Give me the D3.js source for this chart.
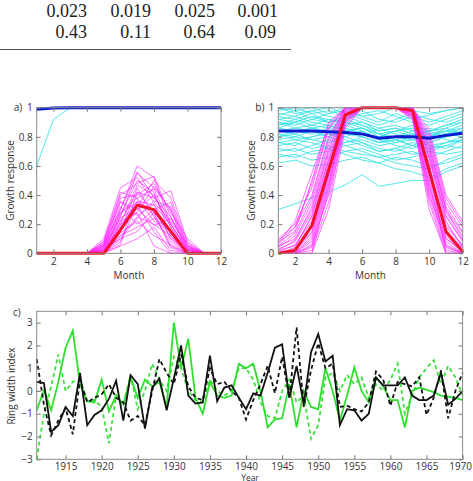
<!DOCTYPE html>
<html>
<head>
<meta charset="utf-8">
<script src="https://cdn.jsdelivr.net/npm/d3@7"></script>
<style>
  body { margin: 0; background: #fff; }
  svg { display: block; }
  .tick text { font-family: "Open Sans", sans-serif; font-size: 10px; fill: #333; }
  .tick line { stroke: #777; }
  .lbl { font-family: "Open Sans", sans-serif; font-size: 10px; fill: #333; }
</style>
</head>
<body>
<div id="chart"></div>
<script>
// table fragment at the top
const tableRow1 = ["0.023", "0.019", "0.025", "0.001"];
const tableRow2 = ["0.43", "0.11", "0.64", "0.09"];

const months = [1, 2, 3, 4, 5, 6, 7, 8, 9, 10, 11, 12];
const monthTicks = [2, 4, 6, 8, 10, 12];
const responseTicks = [0, 0.2, 0.4, 0.6, 0.8, 1];

// panel a: moisture (cyan / blue mean) and temperature (magenta / red mean)
const aCyan = [
  [0.60, 0.92, 1, 1, 1, 1, 1, 1, 1, 1, 1, 1],
  [1, 1, 1, 1, 1, 1, 1, 1, 1, 1, 1, 1],
  [1, 1, 1, 1, 1, 1, 1, 1, 1, 1, 1, 1]
];
const aBlue = [0.99, 0.998, 1, 1, 1, 1, 1, 1, 1, 1, 1, 1];
const aMagenta = [
  [0, 0, 0, 0, 0.05, 0.30, 0.60, 0.52, 0.20, 0.02, 0, 0],
  [0, 0, 0, 0, 0.02, 0.25, 0.55, 0.45, 0.30, 0, 0, 0],
  [0, 0, 0, 0, 0.08, 0.40, 0.48, 0.53, 0.25, 0.05, 0, 0],
  [0, 0, 0, 0, 0, 0.18, 0.35, 0.30, 0.10, 0, 0, 0],
  [0, 0, 0, 0, 0.03, 0.22, 0.42, 0.38, 0.43, 0.08, 0, 0],
  [0, 0, 0, 0, 0, 0.10, 0.15, 0.28, 0.05, 0, 0, 0],
  [0, 0, 0, 0, 0.06, 0.35, 0.30, 0.40, 0.18, 0.02, 0, 0],
  [0, 0, 0, 0, 0, 0.12, 0.25, 0.20, 0.12, 0, 0, 0],
  [0, 0, 0, 0, 0.04, 0.28, 0.38, 0.22, 0.15, 0.03, 0, 0],
  [0, 0, 0, 0, 0, 0.05, 0.10, 0.18, 0.02, 0, 0, 0],
  [0, 0, 0, 0, 0.10, 0.45, 0.52, 0.35, 0.22, 0.06, 0, 0],
  [0, 0, 0, 0, 0.02, 0.20, 0.28, 0.46, 0.30, 0.04, 0, 0],
  [0, 0, 0, 0, 0, 0.15, 0.45, 0.25, 0.08, 0, 0, 0],
  [0, 0, 0, 0, 0.05, 0.32, 0.20, 0.30, 0.35, 0.05, 0, 0],
  [0, 0, 0, 0, 0, 0.08, 0.33, 0.15, 0, 0, 0, 0],
  [0, 0, 0, 0, 0.03, 0.26, 0.50, 0.42, 0.12, 0, 0, 0],
  [0, 0, 0, 0, 0.07, 0.38, 0.40, 0.48, 0.28, 0.10, 0, 0],
  [0, 0, 0, 0, 0, 0.14, 0.22, 0.12, 0.06, 0, 0, 0],
  [0, 0, 0, 0, 0.02, 0.18, 0.36, 0.33, 0.20, 0.03, 0, 0],
  [0, 0, 0, 0, 0, 0.22, 0.28, 0.05, 0, 0, 0, 0],
  [0, 0, 0, 0, 0.05, 0.30, 0.56, 0.38, 0.25, 0.02, 0, 0],
  [0, 0, 0, 0, 0.01, 0.12, 0.18, 0.24, 0.16, 0, 0, 0],
  [0, 0, 0, 0, 0.04, 0.24, 0.32, 0.50, 0.38, 0.07, 0, 0],
  [0, 0, 0, 0, 0, 0.06, 0.42, 0.28, 0.14, 0, 0, 0],
  [0, 0, 0, 0, 0.06, 0.36, 0.26, 0.34, 0.10, 0.02, 0, 0],
  [0, 0, 0, 0, 0.02, 0.16, 0.31, 0.19, 0.24, 0.04, 0, 0],
  [0, 0, 0, 0, 0, 0.20, 0.47, 0.40, 0.18, 0, 0, 0],
  [0, 0, 0, 0, 0.03, 0.10, 0.24, 0.36, 0.32, 0.05, 0, 0],
  [0, 0, 0, 0, 0, 0.28, 0.35, 0.27, 0.04, 0, 0, 0],
  [0, 0, 0, 0, 0.08, 0.42, 0.38, 0.44, 0.20, 0.03, 0, 0]
];
const aRed = [0, 0, 0, 0, 0, 0.16, 0.33, 0.30, 0.15, 0, 0, 0];

// panel b
const bCyan = [
  [0.30, 0.34, 0.38, 0.42, 0.47, 0.54, 0.46, 0.48, 0.50, 0.50, 0.56, 0.60],
  [0.62, 0.64, 0.60, 0.61, 0.64, 0.66, 0.62, 0.58, 0.56, 0.52, 0.58, 0.62],
  [0.95, 0.98, 0.92, 0.96, 1.00, 0.94, 0.90, 0.96, 0.92, 0.95, 0.98, 1.00],
  [0.88, 0.90, 0.86, 0.84, 0.88, 0.90, 0.84, 0.86, 0.82, 0.84, 0.88, 0.90],
  [0.72, 0.70, 0.74, 0.78, 0.74, 0.70, 0.66, 0.68, 0.70, 0.66, 0.70, 0.74],
  [0.80, 0.82, 0.78, 0.76, 0.80, 0.84, 0.78, 0.74, 0.72, 0.76, 0.80, 0.82],
  [1.00, 0.96, 0.98, 0.94, 0.92, 0.96, 0.98, 0.94, 0.90, 0.88, 0.92, 0.96],
  [0.76, 0.74, 0.80, 0.82, 0.78, 0.74, 0.70, 0.72, 0.76, 0.74, 0.72, 0.78],
  [0.90, 0.88, 0.92, 0.90, 0.86, 0.82, 0.80, 0.84, 0.86, 0.82, 0.84, 0.86],
  [0.68, 0.66, 0.70, 0.72, 0.68, 0.64, 0.62, 0.66, 0.64, 0.60, 0.62, 0.66],
  [0.86, 0.84, 0.82, 0.86, 0.90, 0.88, 0.82, 0.80, 0.84, 0.86, 0.82, 0.84],
  [0.94, 0.92, 0.96, 0.98, 0.94, 0.90, 0.86, 0.88, 0.84, 0.80, 0.86, 0.90],
  [0.78, 0.80, 0.84, 0.80, 0.76, 0.78, 0.74, 0.76, 0.80, 0.82, 0.78, 0.76],
  [0.84, 0.86, 0.88, 0.92, 0.88, 0.84, 0.76, 0.78, 0.74, 0.78, 0.82, 0.80],
  [0.98, 1.00, 0.96, 0.90, 0.94, 0.98, 0.92, 0.90, 0.94, 0.90, 0.94, 0.98],
  [0.70, 0.72, 0.68, 0.70, 0.74, 0.76, 0.70, 0.72, 0.68, 0.70, 0.74, 0.72],
  [0.82, 0.78, 0.80, 0.84, 0.82, 0.80, 0.86, 0.82, 0.78, 0.74, 0.76, 0.80],
  [0.92, 0.94, 0.90, 0.88, 0.84, 0.86, 0.80, 0.84, 0.88, 0.84, 0.80, 0.84],
  [0.74, 0.76, 0.72, 0.74, 0.70, 0.72, 0.68, 0.64, 0.66, 0.70, 0.68, 0.70],
  [0.86, 0.90, 0.94, 0.90, 0.92, 0.88, 0.84, 0.86, 0.82, 0.80, 0.84, 0.88],
  [0.80, 0.84, 0.86, 0.82, 0.80, 0.76, 0.72, 0.70, 0.74, 0.72, 0.76, 0.78],
  [0.96, 0.94, 0.98, 1.00, 0.96, 0.92, 0.88, 0.92, 0.96, 0.92, 0.90, 0.94],
  [0.66, 0.68, 0.64, 0.66, 0.70, 0.68, 0.66, 0.62, 0.60, 0.58, 0.64, 0.68],
  [0.90, 0.86, 0.84, 0.80, 0.84, 0.86, 0.82, 0.78, 0.80, 0.84, 0.86, 0.82],
  [0.84, 0.82, 0.86, 0.88, 0.84, 0.80, 0.76, 0.80, 0.78, 0.76, 0.80, 0.84],
  [1.00, 0.98, 1.00, 0.96, 0.98, 0.94, 0.96, 1.00, 0.98, 0.96, 0.98, 1.00],
  [0.76, 0.78, 0.76, 0.72, 0.76, 0.80, 0.76, 0.78, 0.74, 0.72, 0.74, 0.78],
  [0.88, 0.92, 0.88, 0.86, 0.82, 0.84, 0.78, 0.80, 0.82, 0.78, 0.82, 0.86],
  [0.82, 0.80, 0.78, 0.80, 0.86, 0.82, 0.80, 0.76, 0.78, 0.80, 0.84, 0.82],
  [0.92, 0.90, 0.94, 0.92, 0.90, 0.86, 0.82, 0.84, 0.80, 0.84, 0.88, 0.92]
];
const bBlue = [0.84, 0.84, 0.84, 0.835, 0.83, 0.82, 0.79, 0.80, 0.80, 0.79, 0.81, 0.825];
const bMagenta = [
  [0, 0, 0, 0.45, 0.95, 1, 1, 1, 1, 0.60, 0, 0],
  [0.05, 0.10, 0.30, 0.70, 1, 1, 1, 1, 0.98, 0.50, 0.10, 0.02],
  [0, 0.02, 0.15, 0.55, 0.92, 1, 1, 1, 1, 0.65, 0.20, 0.05],
  [0.10, 0.20, 0.45, 0.85, 1, 1, 1, 1, 0.95, 0.45, 0.05, 0],
  [0, 0, 0.05, 0.40, 0.88, 1, 1, 1, 1, 0.75, 0.30, 0.10],
  [0.02, 0.05, 0.25, 0.65, 0.98, 1, 1, 1, 0.97, 0.55, 0.15, 0.03],
  [0, 0, 0, 0.30, 0.86, 1, 1, 1, 1, 0.80, 0.35, 0.18],
  [0.08, 0.15, 0.50, 0.90, 1, 1, 1, 1, 0.92, 0.35, 0, 0],
  [0, 0.03, 0.20, 0.60, 0.94, 1, 1, 1, 1, 0.70, 0.25, 0.08],
  [0.04, 0.12, 0.35, 0.75, 1, 1, 1, 1, 0.96, 0.40, 0.08, 0],
  [0, 0, 0.10, 0.50, 0.90, 1, 1, 1, 1, 0.85, 0.40, 0.22],
  [0, 0.01, 0.08, 0.48, 0.96, 1, 1, 1, 0.99, 0.62, 0.12, 0.01],
  [0.06, 0.18, 0.40, 0.80, 1, 1, 1, 1, 0.94, 0.30, 0, 0],
  [0, 0, 0.02, 0.35, 0.90, 1, 1, 1, 1, 0.72, 0.28, 0.12],
  [0.03, 0.08, 0.28, 0.68, 0.97, 1, 1, 1, 0.98, 0.58, 0.18, 0.06],
  [0, 0, 0.12, 0.52, 0.93, 1, 1, 1, 1, 0.68, 0.22, 0.04],
  [0.07, 0.22, 0.55, 0.88, 1, 1, 1, 1, 0.95, 0.48, 0.06, 0],
  [0, 0.02, 0.18, 0.58, 0.95, 1, 1, 1, 1, 0.78, 0.32, 0.15],
  [0.01, 0.06, 0.22, 0.62, 0.98, 1, 1, 1, 0.97, 0.52, 0.14, 0.02],
  [0, 0, 0.04, 0.42, 0.91, 1, 1, 1, 1, 0.66, 0.26, 0.09],
  [0.05, 0.14, 0.38, 0.78, 1, 1, 1, 1, 0.93, 0.42, 0.04, 0],
  [0, 0.01, 0.14, 0.54, 0.94, 1, 1, 1, 1, 0.74, 0.30, 0.14],
  [0.02, 0.09, 0.32, 0.72, 0.99, 1, 1, 1, 0.96, 0.46, 0.10, 0.01],
  [0, 0, 0.06, 0.46, 0.92, 1, 1, 1, 1, 0.82, 0.38, 0.20],
  [0.09, 0.18, 0.48, 0.86, 1, 1, 1, 1, 0.94, 0.38, 0.02, 0],
  [0, 0.04, 0.26, 0.64, 0.96, 1, 1, 1, 0.99, 0.56, 0.16, 0.04]
];
const bRed = [0, 0.02, 0.19, 0.57, 0.95, 1, 1, 1, 0.98, 0.57, 0.15, 0.01];

// panel c: ring width index, 1911-1970
const years = d3.range(1911, 1971);
const yearTicks = [1915, 1920, 1925, 1930, 1935, 1940, 1945, 1950, 1955, 1960, 1965, 1970];
const ringTicks = [-3, -2, -1, 0, 1, 2, 3];
const blackSolid = [0.4, 0.35, -1.8, -1.5, -0.7, -1.1, 0.8, -1.5, -1.05, -0.85,
  -0.35, 0.45, -1.3, 0.7, 0.3, -1.65, 0.15, 0.55, -0.85, 0.55,
  2.0, -0.2, -0.55, -0.5, 1.55, -0.45, 0.15, 0.25, -0.3, -0.8,
  -0.1, -0.2, 0.8, 1.9, 2.05, -0.3, 1.1, -0.6, 1.7, 2.5,
  1.3, 1.55, -1.5, -0.8, -0.85, -1.3, -1.0, 0.6, 0.25, 0.25,
  0.25, 0.6, -0.2, -0.4, -0.4, -0.2, 0.8, -0.6, -0.35, 0.0];
const blackDashed = [1.4, -0.6, -1.95, -1.3, -0.75, -1.9, 0.5, -0.5, -0.3, -0.15,
  0.3, -0.3, -0.5, -1.3, -1.1, -1.5, 0.0, 1.4, 0.8, 0.3,
  1.6, 0.2, -0.3, -0.4, 1.0, 0.3, 0.4, 0.0, -0.3, -1.25,
  -0.4, 0.3, 1.1, -0.1, 1.5, -0.3, 2.8, -0.7, 0.9, 2.1,
  1.0, 1.2, -0.7, -0.65, -0.8, -0.9, -0.5, 0.85, 0.5, -0.65,
  0.4, 0.3, 0.2, 0.6, -1.05, -0.3, 0.9, -1.2, 0.0, 0.8];
const greenSolid = [-0.85, 0.05, -0.85, 0.4, 1.9, 2.65, 0.3, -0.45, -0.5, 0.5,
  -0.9, -0.2, -0.6, 0.6, -0.3, 0.5, 0.2, 0.4, -0.7, 3.0,
  1.0, 2.3, -0.3, -1.0, 0.4, -0.2, -0.3, -0.2, 1.2, 1.0,
  1.2, 0.0, -1.6, -1.25, -1.2, 0.3, -1.6, 0.0, -0.7, -0.8,
  1.0, 0.0, -1.3, -0.2, 1.05, 0.0, -0.5, 0.6, 0.2, -0.4,
  -0.4, -1.6, 0.0, 0.15, 0.05, -0.05, -0.2, -0.25, -0.3, -0.4];
const greenDashed = [-3.0, -1.0, 0.2, 1.6, 0.0, 0.4, 0.5, -0.4, -0.4, -0.7,
  -2.3, -0.2, -0.6, 0.7, -0.8, 0.0, 1.2, 0.5, 0.0, 1.5,
  1.0, 0.0, -0.4, -0.5, 0.5, 0.0, -0.2, 0.0, 1.0, 1.0,
  0.5, -0.5, -1.1, -1.2, 0.0, 0.5, -0.5, -0.2, -2.1, -1.5,
  0.6, 0.8, 0.0, 0.7, 0.3, 0.6, -0.3, 0.3, 0.0, 0.5,
  1.2, -1.0, -0.2, 0.6, 1.0, 1.35, 0.3, 1.1, 0.6, -0.2];

const W = 473, H = 481;
const svg = d3.select("#chart").append("svg").attr("width", W).attr("height", H);

// ---- table fragment ----
const colRight = [87, 151, 215, 278];
[tableRow1, tableRow2].forEach((row, r) => {
  row.forEach((v, i) => {
    svg.append("text")
      .attr("x", colRight[i] - (r === 1 && i === 3 ? 2 : 0))
      .attr("y", 17 + r * 20.5)
      .attr("text-anchor", "end")
      .style("font-family", "'Liberation Serif', serif")
      .style("font-size", "18px")
      .style("fill", "#222")
      .text(v);
  });
});
svg.append("line")
  .attr("x1", 0).attr("x2", 291).attr("y1", 49.5).attr("y2", 49.5)
  .attr("stroke", "#555").attr("stroke-width", 1.2);

// matlab style box with inward ticks
function boxAxes(x, y, xTicks, yTicks, xFmt, yFmt, xPad) {
  const [x0, x1] = x.range();
  const [y0, y1] = y.range();
  const g = svg.append("g");
  g.append("rect")
    .attr("x", x0).attr("y", y1).attr("width", x1 - x0).attr("height", y0 - y1)
    .attr("fill", "none").attr("stroke", "#8a8a8a").attr("stroke-width", 1);

  g.append("g").attr("transform", `translate(0,${y0})`)
    .call(d3.axisBottom(x).tickValues(xTicks).tickSizeInner(-4).tickSizeOuter(0).tickPadding(xPad).tickFormat(xFmt))
    .call(a => a.select(".domain").remove());
  g.append("g").attr("transform", `translate(0,${y1})`)
    .call(d3.axisTop(x).tickValues(xTicks).tickSizeInner(-4).tickSizeOuter(0).tickFormat(""))
    .call(a => a.select(".domain").remove());
  g.append("g").attr("transform", `translate(${x0},0)`)
    .call(d3.axisLeft(y).tickValues(yTicks).tickSizeInner(-4).tickSizeOuter(0).tickPadding(4).tickFormat(yFmt))
    .call(a => a.select(".domain").remove());
  g.append("g").attr("transform", `translate(${x1},0)`)
    .call(d3.axisRight(y).tickValues(yTicks).tickSizeInner(-4).tickSizeOuter(0).tickFormat(""))
    .call(a => a.select(".domain").remove());
  return g;
}

function monthPanel(left, right, cyan, blue, magenta, red, tag) {
  const x = d3.scaleLinear().domain([1, 12]).range([left, right]);
  const y = d3.scaleLinear().domain([0, 1]).range([253.3, 107.7]);
  const line = d3.line().x((d, i) => x(months[i])).y(d => y(d));
  const g = svg.append("g");

  g.selectAll(".cy").data(cyan).join("path")
    .attr("d", line).attr("fill", "none")
    .attr("stroke", "#3fe3e8").attr("stroke-width", 0.9);
  g.selectAll(".mg").data(magenta).join("path")
    .attr("d", line).attr("fill", "none")
    .attr("stroke", "#ff22ff").attr("stroke-width", 0.8).attr("stroke-opacity", 0.8);
  g.append("path").datum(blue).attr("d", line).attr("fill", "none")
    .attr("stroke", "#0a1ad0").attr("stroke-width", 3);
  g.append("path").datum(red).attr("d", line).attr("fill", "none")
    .attr("stroke", "#f5102a").attr("stroke-width", 3).attr("stroke-linejoin", "round");

  boxAxes(x, y, monthTicks, responseTicks, d3.format("d"), d3.format("~g"), 5);

  svg.append("text").attr("class", "lbl")
    .attr("x", (left + right) / 2).attr("y", 279).attr("text-anchor", "middle").text("Month");
  svg.append("text").attr("class", "lbl")
    .attr("transform", `translate(${left - 23},180.5) rotate(-90)`)
    .attr("text-anchor", "middle").text("Growth response");
  svg.append("text").attr("class", "lbl")
    .attr("x", left - 23).attr("y", 111).text(tag);
}

monthPanel(36.7, 221, aCyan, aBlue, aMagenta, aRed, "a)");
monthPanel(278.3, 462.7, bCyan, bBlue, bMagenta, bRed, "b)");

// ---- panel c ----
const xc = d3.scaleLinear().domain([1911, 1970]).range([36.7, 462.6]);
const yc = d3.scaleLinear().domain([-3, 3.5]).range([459.3, 311.3]);
const ringLine = d3.line().x((d, i) => xc(years[i])).y(d => yc(d));

const ringSeries = [
  { values: greenDashed, color: "#3ee03e", dash: "4,3" },
  { values: greenSolid, color: "#2ee02e", dash: null },
  { values: blackDashed, color: "#111", dash: "4,3" },
  { values: blackSolid, color: "#111", dash: null }
];
svg.append("g").selectAll("path").data(ringSeries).join("path")
  .attr("d", d => ringLine(d.values))
  .attr("fill", "none")
  .attr("stroke", d => d.color)
  .attr("stroke-width", 1.8)
  .attr("stroke-dasharray", d => d.dash);

const cAxes = boxAxes(xc, yc, yearTicks, ringTicks, d3.format("d"), d3.format("d"), 3.5);
// last year label sits tight against the right edge
cAxes.selectAll(".tick text").filter(d => d === 1970).attr("dx", "-2.5");

svg.append("text").attr("class", "lbl")
  .attr("transform", "translate(15,386) rotate(-90)")
  .attr("text-anchor", "middle").text("Ring width index");
svg.append("text").attr("class", "lbl")
  .attr("x", 13).attr("y", 316).text("c)");
svg.append("text").attr("class", "lbl")
  .style("font-size", "8.5px")
  .attr("x", 250).attr("y", 480.5).attr("text-anchor", "middle").text("Year");
</script>
</body>
</html>
